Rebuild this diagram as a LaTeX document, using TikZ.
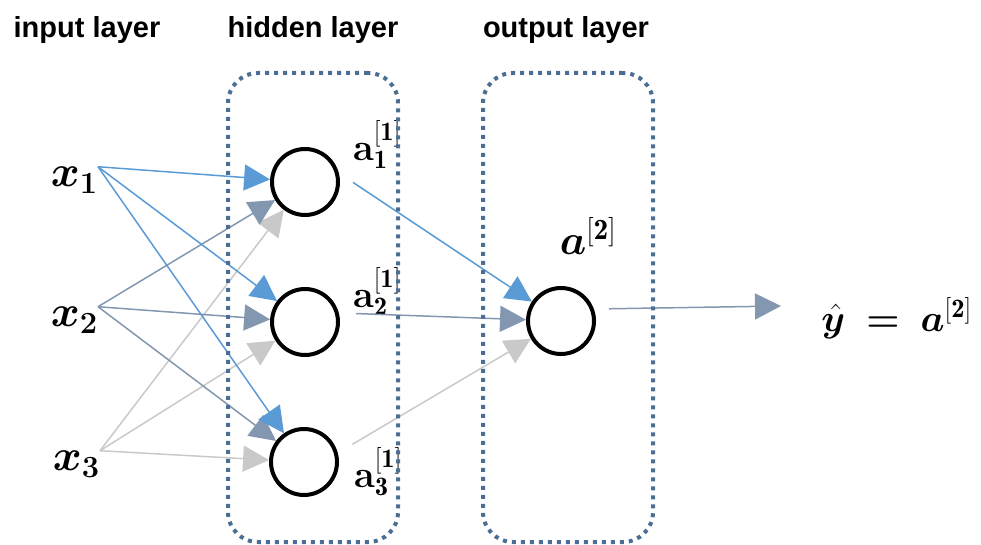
\documentclass[tikz,border=0pt]{standalone}
\usepackage{fix-cm}
\usepackage{fontspec}
\usepackage{amsmath,bm}
\setsansfont{Liberation Sans}
\usetikzlibrary{arrows.meta}
\definecolor{nnblue}{HTML}{5B9BD5}
\definecolor{nngray}{HTML}{8497B0}
\definecolor{nnlight}{HTML}{C9C9C9}
\definecolor{boxblue}{HTML}{4A6E94}
\begin{document}
\begin{tikzpicture}[x=1pt, y=-1pt,
        unit/.style={draw, circle, line width=4pt, minimum size=66pt, inner sep=0pt},
        layerbox/.style={draw=boxblue, line width=4pt, dash pattern=on 4pt off 5pt, rounded corners=30pt, minimum width=170pt, minimum height=469pt},
        conn/.style={line width=1.5pt, -{Triangle[length=26pt,width=26pt]}},
        head/.style={font=\fontsize{29}{32}\selectfont\sffamily\bfseries},
        inlabel/.style={font=\fontsize{44}{46}\selectfont, anchor=east, inner sep=0pt},
        alabel/.style={font=\fontsize{38}{40}\selectfont, inner sep=0pt}
    ]
        \useasboundingbox (0,0) rectangle (981,545);
        % layer titles
        \node[head] (inhead) at (87,30) {input layer};
        \node[head] (hidhead) at (313,30) {hidden layer};
        \node[head] (outhead) at (566,30) {output layer};

        % units
        \node[inlabel] (x1) at (98,180) {$\bm{x_1}$};
        \node[inlabel] (x2) at (98,320) {$\bm{x_2}$};
        \node[inlabel] (x3) at (100,464) {$\bm{x_3}$};
        \node[unit] (h1) at (305,182) {};
        \node[unit] (h2) at (305,322) {};
        \node[unit] (h3) at (304,462) {};
        \node[unit] (o) at (561,321) {};
        \coordinate (yend) at (781,306);

        \node[alabel] (a1) at (377,145) {\textbf{a}$_{\mathbf{1}}^{\mathbf{[1]}}$};
        \node[alabel] (a2) at (377,292) {\textbf{a}$_{\mathbf{2}}^{\mathbf{[1]}}$};
        \node[alabel] (a3) at (378,472) {\textbf{a}$_{\mathbf{3}}^{\mathbf{[1]}}$};
        \node[alabel, font=\fontsize{42}{44}\selectfont] (alpha) at (588,236) {$\bm{a}^{\mathbf{[2]}}$};
        \node[alabel, font=\fontsize{38}{40}\selectfont, anchor=east] (yhat) at (972,318) {$\bm{\hat{y}}\;\bm{=}\;\bm{a}^{\mathbf{[2]}}$};

        % connections
        \foreach \s/\c in {3/nnlight, 2/nngray, 1/nnblue}
            \foreach \t in {1,2,3}
                \draw[conn, \c] (x\s.north east) -- (h\t);
        \foreach \t/\c in {3/nnlight, 2/nngray, 1/nnblue}
            \draw[conn, \c, shorten <=17pt] (h\t.15) -- (o);
        \draw[conn, nngray, shorten <=15pt] (o.20) -- (yend);

        % layer boxes
        \node[layerbox] (hidbox) at (313,307.5) {};
        \node[layerbox] (outbox) at (568,307.5) {};
    \end{tikzpicture}
\end{document}
